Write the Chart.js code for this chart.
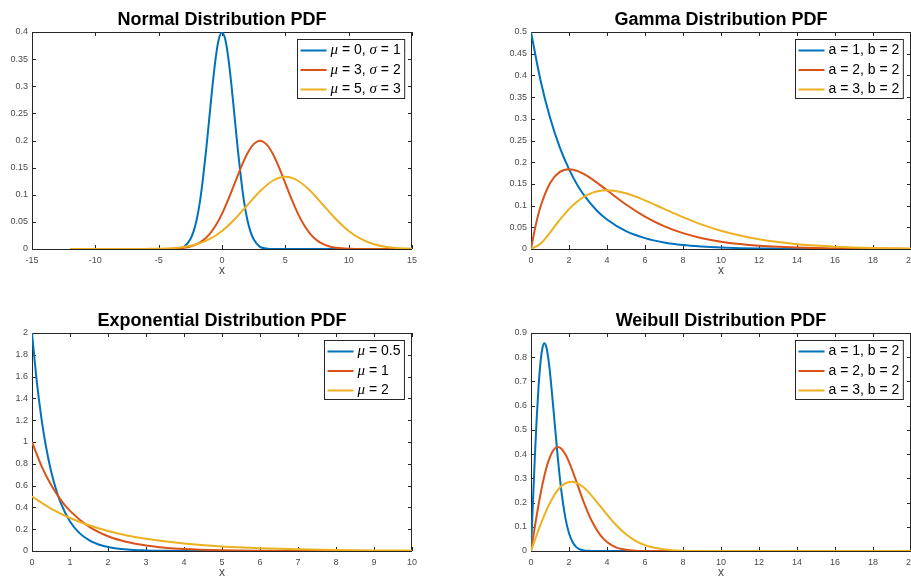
<!DOCTYPE html>
<html>
<head>
<meta charset="utf-8">
<title>Distribuciones PDF</title>
<script src="https://cdn.jsdelivr.net/npm/chart.js@4.4.0/dist/chart.umd.min.js"></script>
<style>
  html, body { margin: 0; padding: 0; background: #fff; width: 911px; height: 576px; overflow: hidden; position: relative; }
  canvas { position: absolute; }
</style>
</head>
<body>
<canvas id="graficoNormal"></canvas>
<canvas id="graficoGamma"></canvas>
<canvas id="graficoExp"></canvas>
<canvas id="graficoWeibull"></canvas>
<script>
// NORMAL
const normalXTicks = [-15, -10, -5, 0, 5, 10, 15];
const normalYTicks = [0, 0.05, 0.1, 0.15, 0.2, 0.25, 0.3, 0.35, 0.4];
const normalLabels = ['μ = 0, σ = 1', 'μ = 3, σ = 2', 'μ = 5, σ = 3'];
const normal1X = [-12, -4, -3.5, -3, -2.5, -2.25, -2, -1.75, -1.5, -1.25, -1, -0.75, -0.5, -0.25, 0, 0.25, 0.5, 0.75, 1, 1.25, 1.5, 1.75, 2, 2.25, 2.5, 3, 3.5, 4, 15];
const normal1Y = [0, 0, 0.001, 0.004, 0.018, 0.032, 0.054, 0.086, 0.130, 0.183, 0.242, 0.301, 0.352, 0.387, 0.399, 0.387, 0.352, 0.301, 0.242, 0.183, 0.130, 0.086, 0.054, 0.032, 0.018, 0.004, 0.001, 0, 0];
const normal2X = [-12, -5, -4, -3, -2.5, -2, -1.5, -1, -0.5, 0, 0.5, 1, 1.5, 2, 2.5, 3, 3.5, 4, 4.5, 5, 5.5, 6, 6.5, 7, 7.5, 8, 8.5, 9, 10, 11, 15];
const normal2Y = [0, 0.0001, 0.0004, 0.0022, 0.0045, 0.0088, 0.0159, 0.027, 0.0432, 0.0648, 0.0913, 0.121, 0.1506, 0.176, 0.1934, 0.1995, 0.1934, 0.176, 0.1506, 0.121, 0.0913, 0.0648, 0.0432, 0.027, 0.0159, 0.0088, 0.0045, 0.0022, 0.0004, 0.0001, 0];
const normal3X = [-12, -7, -6, -5, -4, -3, -2, -1, 0, 1, 2, 3, 4, 5, 6, 7, 8, 9, 10, 11, 12, 13, 14, 15];
const normal3Y = [0, 0, 0.0002, 0.0005, 0.0015, 0.0038, 0.0087, 0.018, 0.0332, 0.0547, 0.0807, 0.1065, 0.1258, 0.133, 0.1258, 0.1065, 0.0807, 0.0547, 0.0332, 0.018, 0.0087, 0.0038, 0.0015, 0.0005];

// GAMMA
const gammaXTicks = [0, 2, 4, 6, 8, 10, 12, 14, 16, 18, 20];
const gammaYTicks = [0, 0.05, 0.1, 0.15, 0.2, 0.25, 0.3, 0.35, 0.4, 0.45, 0.5];
const gammaLabels = ['a = 1, b = 2', 'a = 2, b = 2', 'a = 3, b = 2'];
const gamma1X = [0, 0.5, 1, 1.5, 2, 2.5, 3, 3.5, 4, 5, 6, 7, 8, 9, 10, 11, 12, 13, 14, 15, 16, 18, 20];
const gamma1Y = [0.5, 0.389, 0.303, 0.236, 0.184, 0.143, 0.112, 0.087, 0.068, 0.041, 0.025, 0.015, 0.009, 0.0056, 0.0034, 0.002, 0.0012, 0.0008, 0.0005, 0.0003, 0.0002, 0.0001, 0];
const gamma2X = [0, 0.25, 0.5, 1, 1.5, 2, 2.5, 3, 4, 5, 6, 7, 8, 9, 10, 11, 12, 13, 14, 15, 16, 17, 18, 19, 20];
const gamma2Y = [0, 0.0552, 0.0974, 0.1516, 0.1771, 0.1839, 0.179, 0.1673, 0.1353, 0.1026, 0.0747, 0.0528, 0.0366, 0.025, 0.0168, 0.0113, 0.0074, 0.0049, 0.0032, 0.0021, 0.0013, 0.0009, 0.0006, 0.0004, 0.0002];
const gamma3X = [0, 0.5, 1, 1.5, 2, 2.5, 3, 3.5, 4, 5, 6, 7, 8, 9, 10, 11, 12, 13, 14, 15, 16, 17, 18, 19, 20];
const gamma3Y = [0, 0.0122, 0.0379, 0.0664, 0.092, 0.1119, 0.1255, 0.1331, 0.1353, 0.1283, 0.112, 0.0925, 0.0733, 0.0562, 0.0421, 0.0309, 0.0223, 0.0159, 0.0112, 0.0078, 0.0054, 0.0037, 0.0025, 0.0017, 0.0011];

// EXPONENCIAL
const expXTicks = [0, 1, 2, 3, 4, 5, 6, 7, 8, 9, 10];
const expYTicks = [0, 0.2, 0.4, 0.6, 0.8, 1, 1.2, 1.4, 1.6, 1.8, 2];
const expLabels = ['μ = 0.5', 'μ = 1', 'μ = 2'];
const exp1X = [0, 0.125, 0.25, 0.375, 0.5, 0.625, 0.75, 1, 1.25, 1.5, 1.75, 2, 2.5, 3, 3.5, 4, 5, 6, 10];
const exp1Y = [2, 1.558, 1.213, 0.945, 0.736, 0.573, 0.446, 0.271, 0.164, 0.1, 0.06, 0.037, 0.0135, 0.005, 0.0018, 0.0007, 0.0001, 0, 0];
const exp2X = [0, 0.25, 0.5, 0.75, 1, 1.5, 2, 2.5, 3, 3.5, 4, 5, 6, 7, 8, 9, 10];
const exp2Y = [1, 0.779, 0.607, 0.472, 0.368, 0.223, 0.135, 0.082, 0.05, 0.03, 0.018, 0.0067, 0.0025, 0.0009, 0.0003, 0.0001, 0];
const exp3X = [0, 0.5, 1, 1.5, 2, 2.5, 3, 4, 5, 6, 7, 8, 9, 10];
const exp3Y = [0.5, 0.389, 0.303, 0.236, 0.184, 0.143, 0.112, 0.068, 0.041, 0.025, 0.015, 0.009, 0.0056, 0.0034];

// WEIBULL
const weibullXTicks = [0, 2, 4, 6, 8, 10, 12, 14, 16, 18, 20];
const weibullYTicks = [0, 0.1, 0.2, 0.3, 0.4, 0.5, 0.6, 0.7, 0.8, 0.9];
const weibullLabels = ['a = 1, b = 2', 'a = 2, b = 2', 'a = 3, b = 2'];
const weibull1X = [0, 0.1, 0.2, 0.3, 0.4, 0.5, 0.6, 0.7, 0.8, 0.9, 1, 1.2, 1.4, 1.6, 1.8, 2, 2.2, 2.4, 2.6, 2.8, 3, 3.5, 20];
const weibull1Y = [0, 0.198, 0.384, 0.548, 0.682, 0.779, 0.837, 0.858, 0.844, 0.801, 0.736, 0.569, 0.394, 0.247, 0.141, 0.073, 0.035, 0.015, 0.006, 0.002, 0.0007, 0, 0];
const weibull2X = [0, 0.2, 0.4, 0.6, 0.8, 1, 1.2, 1.4, 1.6, 1.8, 2, 2.4, 2.8, 3.2, 3.6, 4, 4.5, 5, 5.5, 6, 7, 20];
const weibull2Y = [0, 0.099, 0.192, 0.274, 0.341, 0.389, 0.419, 0.429, 0.422, 0.4, 0.368, 0.284, 0.197, 0.124, 0.071, 0.037, 0.014, 0.005, 0.0014, 0.0004, 0, 0];
const weibull3X = [0, 0.3, 0.6, 0.9, 1.2, 1.5, 1.8, 2.1, 2.4, 2.7, 3, 3.5, 4, 4.5, 5, 5.5, 6, 6.5, 7, 8, 9, 10, 20];
const weibull3Y = [0, 0.066, 0.128, 0.183, 0.227, 0.26, 0.279, 0.286, 0.281, 0.267, 0.245, 0.199, 0.15, 0.105, 0.069, 0.042, 0.024, 0.013, 0.0067, 0.0015, 0.0002, 0, 0];

const colores = ['#0072BD', '#D95319', '#EDB120'];
const FUENTE = '"Liberation Sans", Arial, Helvetica, sans-serif';
const FUENTE_GRIEGA = '"Liberation Serif", "DejaVu Serif", serif';
const COLOR_EJE = '#262626';
const COLOR_TICK = '#4a4a4a';

// dibuja la caja de ejes, marcas, titulo, etiqueta x y leyenda
const ejesMatlab = {
  id: 'ejes',
  beforeDatasetsDraw(chart) {
    const { ctx, chartArea: a, scales } = chart;
    ctx.save();
    ctx.strokeStyle = COLOR_EJE;
    ctx.lineWidth = 1;
    ctx.strokeRect(a.left + 0.5, a.top + 0.5, a.right - a.left - 1, a.bottom - a.top);
    ctx.beginPath();
    scales.x.ticks.forEach(t => {
      const px = Math.round(scales.x.getPixelForValue(t.value)) + 0.5;
      ctx.moveTo(px, a.bottom); ctx.lineTo(px, a.bottom - 4);
      ctx.moveTo(px, a.top); ctx.lineTo(px, a.top + 4);
    });
    scales.y.ticks.forEach(t => {
      const py = Math.round(scales.y.getPixelForValue(t.value)) + 0.5;
      ctx.moveTo(a.left, py); ctx.lineTo(a.left + 4, py);
      ctx.moveTo(a.right, py); ctx.lineTo(a.right - 4, py);
    });
    ctx.stroke();
    ctx.restore();
  },
  afterDraw(chart, args, opts) {
    const { ctx, chartArea: a } = chart;
    const cx = (a.left + a.right) / 2;
    ctx.save();
    ctx.fillStyle = '#000';
    ctx.textAlign = 'center';
    ctx.textBaseline = 'alphabetic';
    ctx.font = 'bold 18px ' + FUENTE;
    ctx.fillText(opts.titulo, cx, a.top - 7);

    ctx.fillStyle = COLOR_TICK;
    ctx.font = '12px ' + FUENTE;
    ctx.textBaseline = 'middle';
    ctx.fillText('x', cx, a.bottom + 22);

    // leyenda: letras griegas en cursiva
    const partes = txt => Array.from(txt).map(c => ({ c, it: /[\u0370-\u03ff]/.test(c) }));
    const fuentePara = it => it ? 'italic 15px ' + FUENTE_GRIEGA : '14px ' + FUENTE;
    const medir = txt => partes(txt).reduce((w, p) => { ctx.font = fuentePara(p.it); return w + ctx.measureText(p.c).width; }, 0);
    const sets = chart.data.datasets;
    const anchoTxt = Math.max(...sets.map(d => medir(d.label)));
    const w = 3 + 26 + 4 + anchoTxt + 4;
    const fila = 19.5;
    const h = fila * sets.length + 0.5;
    const x0 = Math.round(a.right - 8 - w) + 0.5;
    const y0 = a.top + 7.5;
    ctx.fillStyle = '#fff';
    ctx.fillRect(x0, y0, w, h);
    ctx.strokeStyle = COLOR_EJE;
    ctx.lineWidth = 1;
    ctx.strokeRect(x0, y0, w, h);
    sets.forEach((d, i) => {
      const cy = y0 + 11 + i * fila;
      ctx.strokeStyle = d.borderColor;
      ctx.lineWidth = 2;
      ctx.beginPath();
      ctx.moveTo(x0 + 3, cy); ctx.lineTo(x0 + 29, cy);
      ctx.stroke();
      let tx = x0 + 33;
      ctx.fillStyle = '#000';
      ctx.textAlign = 'left';
      ctx.textBaseline = 'middle';
      partes(d.label).forEach(p => {
        ctx.font = fuentePara(p.it);
        ctx.fillText(p.c, tx, cy);
        tx += ctx.measureText(p.c).width;
      });
    });
    ctx.restore();
  }
};

const fmt = v => String(+Number(v).toFixed(4));

function crearPanel(id, caja, area, cfg) {
  const canvas = document.getElementById(id);
  canvas.width = caja.w;
  canvas.height = caja.h;
  canvas.style.left = caja.left + 'px';
  canvas.style.top = caja.top + 'px';
  const yAncho = area.l;
  const xAlto = caja.h - area.b;
  const fuenteTicks = { family: FUENTE, size: 9 };

  new Chart(canvas, {
    type: 'line',
    data: {
      datasets: cfg.series.map((s, i) => ({
        label: cfg.labels[i],
        data: s[0].map((x, k) => ({ x: x, y: s[1][k] })),
        borderColor: colores[i],
        borderWidth: 2,
        pointRadius: 0,
        fill: false,
        cubicInterpolationMode: 'monotone',
        order: 3 - i
      }))
    },
    options: {
      responsive: false,
      animation: false,
      devicePixelRatio: 1,
      layout: { padding: { left: 0, top: area.t, right: caja.w - area.r, bottom: 0 } },
      plugins: {
        legend: { display: false },
        tooltip: { enabled: false },
        ejes: { titulo: cfg.titulo }
      },
      scales: {
        x: {
          type: 'linear',
          min: cfg.xTicks[0],
          max: cfg.xTicks[cfg.xTicks.length - 1],
          afterFit: s => { s.height = xAlto; },
          afterBuildTicks: s => { s.ticks = cfg.xTicks.map(v => ({ value: v })); },
          grid: { display: false, drawTicks: false },
          border: { display: false },
          ticks: { padding: 6, font: fuenteTicks, color: COLOR_TICK, callback: fmt, autoSkip: false, maxRotation: 0 }
        },
        y: {
          type: 'linear',
          min: cfg.yTicks[0],
          max: cfg.yTicks[cfg.yTicks.length - 1],
          afterFit: s => { s.width = yAncho; },
          afterBuildTicks: s => { s.ticks = cfg.yTicks.map(v => ({ value: v })); },
          grid: { display: false, drawTicks: false },
          border: { display: false },
          ticks: { padding: 4, font: fuenteTicks, color: COLOR_TICK, callback: fmt, autoSkip: false }
        }
      }
    },
    plugins: [ejesMatlab]
  });
}

crearPanel('graficoNormal', { left: 0, top: 0, w: 460, h: 290 }, { l: 32, t: 32, r: 412, b: 249 }, {
  titulo: 'Normal Distribution PDF', labels: normalLabels, xTicks: normalXTicks, yTicks: normalYTicks,
  series: [[normal1X, normal1Y], [normal2X, normal2Y], [normal3X, normal3Y]]
});
crearPanel('graficoGamma', { left: 460, top: 0, w: 500, h: 290 }, { l: 71, t: 32, r: 451, b: 249 }, {
  titulo: 'Gamma Distribution PDF', labels: gammaLabels, xTicks: gammaXTicks, yTicks: gammaYTicks,
  series: [[gamma1X, gamma1Y], [gamma2X, gamma2Y], [gamma3X, gamma3Y]]
});
crearPanel('graficoExp', { left: 0, top: 290, w: 460, h: 300 }, { l: 32, t: 43, r: 412, b: 261 }, {
  titulo: 'Exponential Distribution PDF', labels: expLabels, xTicks: expXTicks, yTicks: expYTicks,
  series: [[exp1X, exp1Y], [exp2X, exp2Y], [exp3X, exp3Y]]
});
crearPanel('graficoWeibull', { left: 460, top: 290, w: 500, h: 300 }, { l: 71, t: 43, r: 451, b: 261 }, {
  titulo: 'Weibull Distribution PDF', labels: weibullLabels, xTicks: weibullXTicks, yTicks: weibullYTicks,
  series: [[weibull1X, weibull1Y], [weibull2X, weibull2Y], [weibull3X, weibull3Y]]
});
</script>
</body>
</html>
